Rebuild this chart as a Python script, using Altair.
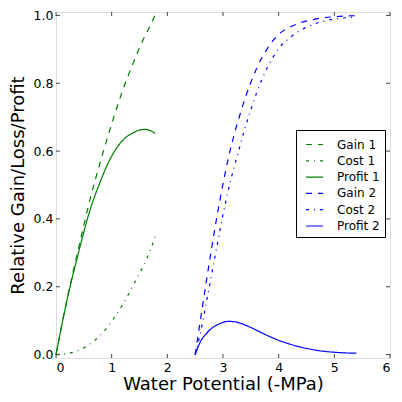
import altair as alt
import pandas as pd

# ---- data ----
x1 = [0, 0.2, 0.4, 0.6, 0.8, 1.0, 1.2, 1.4, 1.5, 1.6, 1.7, 1.78]
gain1 = [0, 0.165, 0.31, 0.45, 0.57, 0.68, 0.78, 0.865, 0.905, 0.94, 0.972, 1.0]
cost1 = [0, 0.003, 0.012, 0.03, 0.058, 0.098, 0.148, 0.208, 0.24, 0.272, 0.31, 0.347]
profit1 = [0, 0.162, 0.298, 0.42, 0.512, 0.585, 0.632, 0.655, 0.662, 0.664, 0.66, 0.652]

x2 = [2.5, 2.6, 2.7, 2.8, 2.9, 3.0, 3.1, 3.2, 3.3, 3.4, 3.5, 3.6, 3.7, 3.8, 3.9,
      4.0, 4.2, 4.4, 4.6, 4.8, 5.0, 5.2, 5.4]
gain2 = [0, 0.108, 0.215, 0.318, 0.415, 0.503, 0.582, 0.648, 0.705, 0.757, 0.802,
         0.842, 0.876, 0.903, 0.926, 0.944, 0.965, 0.979, 0.987, 0.993, 0.996, 0.998, 0.999]
cost2 = [0, 0.068, 0.153, 0.24, 0.327, 0.412, 0.488, 0.553, 0.612, 0.67, 0.722,
         0.77, 0.812, 0.847, 0.877, 0.902, 0.934, 0.957, 0.972, 0.983, 0.989, 0.993, 0.995]
profit2 = [0, 0.04, 0.062, 0.078, 0.088, 0.095, 0.098, 0.097, 0.093, 0.087, 0.08,
           0.072, 0.064, 0.056, 0.049, 0.042, 0.031, 0.022, 0.015, 0.01, 0.007, 0.005, 0.004]

series_names = ["Gain 1", "Cost 1", "Profit 1", "Gain 2", "Cost 2", "Profit 2"]
series_colors = ["#008000", "#008000", "#008000", "#0000ff", "#0000ff", "#0000ff"]
series_dashes = [[6, 6], [3, 5, 1, 5], [1, 0], [6, 6], [3, 5, 1, 5], [1, 0]]

x_ticks = [0, 1, 2, 3, 4, 5, 6]
y_ticks = [0.0, 0.2, 0.4, 0.6, 0.8, 1.0]

rows = []
for name, xs, ys in [("Gain 1", x1, gain1), ("Cost 1", x1, cost1), ("Profit 1", x1, profit1),
                     ("Gain 2", x2, gain2), ("Cost 2", x2, cost2), ("Profit 2", x2, profit2)]:
    for a, b in zip(xs, ys):
        rows.append({"x": a, "y": b, "series": name})
df = pd.DataFrame(rows)

W, H = 334, 346
TICK = 4
FONT = "DejaVu Sans"
SPINE = "#444444"

xscale = alt.Scale(domain=[0, 6], nice=False, zero=False)
yscale = alt.Scale(domain=[-0.01, 1.01], nice=False, zero=False)

legend = alt.Legend(
    title=None, orient="none", legendX=240, legendY=118,
    symbolType="stroke", symbolSize=289, symbolStrokeWidth=1.2,
    labelFontSize=12, labelFont=FONT, labelColor="black", labelOffset=13,
    rowPadding=0.3, padding=5, symbolOffset=4,
    fillColor="white", strokeColor="black", cornerRadius=0,
)

xaxis = alt.Axis(values=x_ticks, format="d", title="Water Potential (-MPa)",
                 ticks=False, domain=False, grid=False, labelPadding=3,
                 labelFontSize=12.5, titleFontSize=18, titleFontWeight="normal",
                 titlePadding=2, labelColor="black", titleColor="black",
                 labelFont=FONT, titleFont=FONT)
yaxis = alt.Axis(values=y_ticks, format=".1f", title="Relative Gain/Loss/Profit",
                 ticks=False, domain=False, grid=False, labelPadding=3,
                 labelFontSize=12.5, titleFontSize=18, titleFontWeight="normal",
                 titlePadding=6, labelColor="black", titleColor="black",
                 labelFont=FONT, titleFont=FONT)

lines = alt.Chart(df).mark_line(strokeWidth=1.2, interpolate="monotone").encode(
    x=alt.X("x:Q", scale=xscale, axis=xaxis),
    y=alt.Y("y:Q", scale=yscale, axis=yaxis),
    color=alt.Color("series:N", scale=alt.Scale(domain=series_names, range=series_colors),
                    legend=legend),
    strokeDash=alt.StrokeDash("series:N", scale=alt.Scale(domain=series_names, range=series_dashes),
                              legend=legend),
)

tx = pd.DataFrame({"x": x_ticks})
ty = pd.DataFrame({"y": y_ticks})

bottom_ticks = alt.Chart(tx).mark_rule(color=SPINE, strokeWidth=1).encode(
    x=alt.X("x:Q", scale=xscale, axis=xaxis), y=alt.value(H), y2=alt.value(H - TICK))
top_ticks = alt.Chart(tx).mark_rule(color=SPINE, strokeWidth=1).encode(
    x=alt.X("x:Q", scale=xscale, axis=xaxis), y=alt.value(0), y2=alt.value(TICK))
left_ticks = alt.Chart(ty).mark_rule(color=SPINE, strokeWidth=1).encode(
    y=alt.Y("y:Q", scale=yscale, axis=yaxis), x=alt.value(0), x2=alt.value(TICK))
right_ticks = alt.Chart(ty).mark_rule(color=SPINE, strokeWidth=1).encode(
    y=alt.Y("y:Q", scale=yscale, axis=yaxis), x=alt.value(W), x2=alt.value(W - TICK))

chart = alt.layer(lines, bottom_ticks, top_ticks, left_ticks, right_ticks).properties(
    width=W, height=H,
    autosize=alt.AutoSizeParams(type="none"),
    padding={"left": 48, "top": 4, "right": 4, "bottom": 36},
    background="white",
).configure_view(stroke=SPINE, strokeWidth=1.5).configure(font=FONT)

chart.save("out.html", embed_options={"renderer": "svg", "actions": False})
